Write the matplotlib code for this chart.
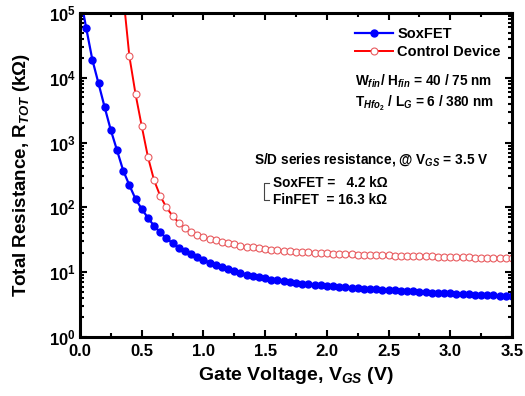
import numpy as np
import matplotlib
matplotlib.use('Agg')
import matplotlib.pyplot as plt
from matplotlib.lines import Line2D
from matplotlib.ticker import FuncFormatter, MultipleLocator, LogLocator

plt.rcParams['font.family'] = ['Liberation Sans', 'DejaVu Sans']
plt.rcParams['font.weight'] = 'bold'
plt.rcParams['mathtext.fontset'] = 'custom'
plt.rcParams['mathtext.rm'] = 'Liberation Sans:bold'
plt.rcParams['mathtext.bf'] = 'Liberation Sans:bold'
plt.rcParams['mathtext.it'] = 'Liberation Sans:italic:bold'
plt.rcParams['mathtext.default'] = 'bf'

# gate voltage sweep (V)
vgs_sox = np.round(np.arange(0.0, 3.5001, 0.05), 2)
vgs_ctrl = np.round(np.arange(0.35, 3.5001, 0.05), 2)

# total resistance (kOhm), SoxFET
r_sox = [1.9e5, 5.9e4, 1.9e4, 8.2e3, 3.5e3, 1.55e3, 760, 370, 220, 135,
         95, 69, 52, 41, 33.5, 28, 24, 21, 18.8, 17,
         15.5, 14.1, 13.0, 12.0, 11.2, 10.5, 9.8, 9.2, 8.7, 8.3,
         8.0, 7.7, 7.45, 7.2, 7.0, 6.8, 6.65, 6.5, 6.4, 6.3,
         6.2, 6.1, 6.0, 5.9, 5.8, 5.7, 5.6, 5.5, 5.45, 5.38,
         5.3, 5.23, 5.16, 5.1, 5.04, 4.98, 4.92, 4.86, 4.8, 4.75,
         4.7, 4.65, 4.6, 4.56, 4.51, 4.47, 4.43, 4.38, 4.34, 4.3,
         4.25]

# total resistance (kOhm), control device
r_ctrl = [1.9e5, 2.15e4, 5.6e3, 1.8e3, 605, 263, 150, 100, 74, 58,
          48.5, 42, 37.5, 35, 32.8, 31, 29.4, 28, 26.8, 25.8,
          24.9, 24.1, 23.4, 22.8, 22.2, 21.7, 21.3, 21.0, 20.7, 20.4,
          20.2, 20.0, 19.8, 19.6, 19.4, 19.2, 19.05, 18.9, 18.75, 18.6,
          18.5, 18.4, 18.3, 18.2, 18.1, 18.0, 17.9, 17.8, 17.7, 17.6,
          17.5, 17.4, 17.3, 17.2, 17.1, 17.0, 16.9, 16.85, 16.75, 16.65,
          16.55, 16.5, 16.4, 16.3]

fig = plt.figure(figsize=(5.25, 3.96), dpi=100)
ax = fig.add_axes([80/525, 1-337/396, 432/525, 324/396])

ax.plot(vgs_ctrl, r_ctrl, '-', color='#ff0000', lw=1.4, marker='o', ms=5.0,
        mfc='white', mec='#e85a5e', mew=0.8, label='Control Device')
ax.plot(vgs_sox, r_sox, '-', color='#0000ff', lw=1.6, marker='o', ms=5.0,
        mfc='#0000ff', mec='#0000ff', label='SoxFET')

ax.set_yscale('log')
ax.set_xlim(0, 3.5)
ax.set_ylim(1, 1e5)

ax.xaxis.set_major_locator(MultipleLocator(0.5))
ax.xaxis.set_minor_locator(MultipleLocator(0.25))
ax.xaxis.set_major_formatter(FuncFormatter(lambda v, p: '%.1f' % v))
ax.yaxis.set_major_locator(LogLocator(base=10, numticks=10))
ax.yaxis.set_minor_locator(LogLocator(base=10, subs=np.arange(2, 10), numticks=20))
ax.yaxis.set_major_formatter(FuncFormatter(lambda v, p: r'$\mathbf{10^{%d}}$' % round(np.log10(v))))

ax.tick_params(which='both', direction='in', top=True, right=True, width=1.5)
ax.tick_params(which='major', length=5, labelsize=12, pad=5)
ax.tick_params(which='minor', length=3)
ax.tick_params(axis='y', which='major', pad=3)
for s in ax.spines.values():
    s.set_linewidth(2.2)

ax.set_xlabel(r'Gate Voltage, V$_{\mathit{GS}}$ (V)', fontsize=14, fontweight='bold', labelpad=4)
ax.set_ylabel(r'Total Resistance, R$_{\mathit{TOT}}$ (k$\Omega$)', fontsize=13.5, fontweight='bold', labelpad=12)

h, l = ax.get_legend_handles_labels()
ax.legend(h[::-1], l[::-1], loc='upper left', bbox_to_anchor=((355-80)/432, 1-(27-13)/324),
          frameon=False, borderpad=0, handlelength=2.6, handletextpad=0.3,
          labelspacing=0.25, borderaxespad=0, prop={'weight': 'bold', 'size': 10.5})

def ftext(x, y, s, size=10):
    fig.text(x/525, 1-y/396, s, va='baseline', ha='left', fontsize=size, fontweight='bold')

ftext(355, 86, r'W$_{\mathit{fin}}$/ H$_{\mathit{fin}}$ = 40 / 75 nm', 9.8)
ftext(355, 107, r'T$_{\mathit{Hfo}_{2}}$ / L$_{\mathit{G}}$ = 6 / 380 nm', 9.8)
ftext(254, 164, r'S/D series resistance, @ V$_{\mathit{GS}}$ = 3.5 V', 9.8)
ftext(273, 187, 'SoxFET =   4.2 k\u03a9', 9.8)
ftext(273, 204, 'FinFET  = 16.3 k\u03a9', 9.8)

fig.add_artist(Line2D([269/525, 264/525, 264/525, 269/525],
                      [1-183/396, 1-183/396, 1-200/396, 1-200/396],
                      transform=fig.transFigure, color='#444444', lw=0.8))

fig.savefig('out.png', dpi=100)
